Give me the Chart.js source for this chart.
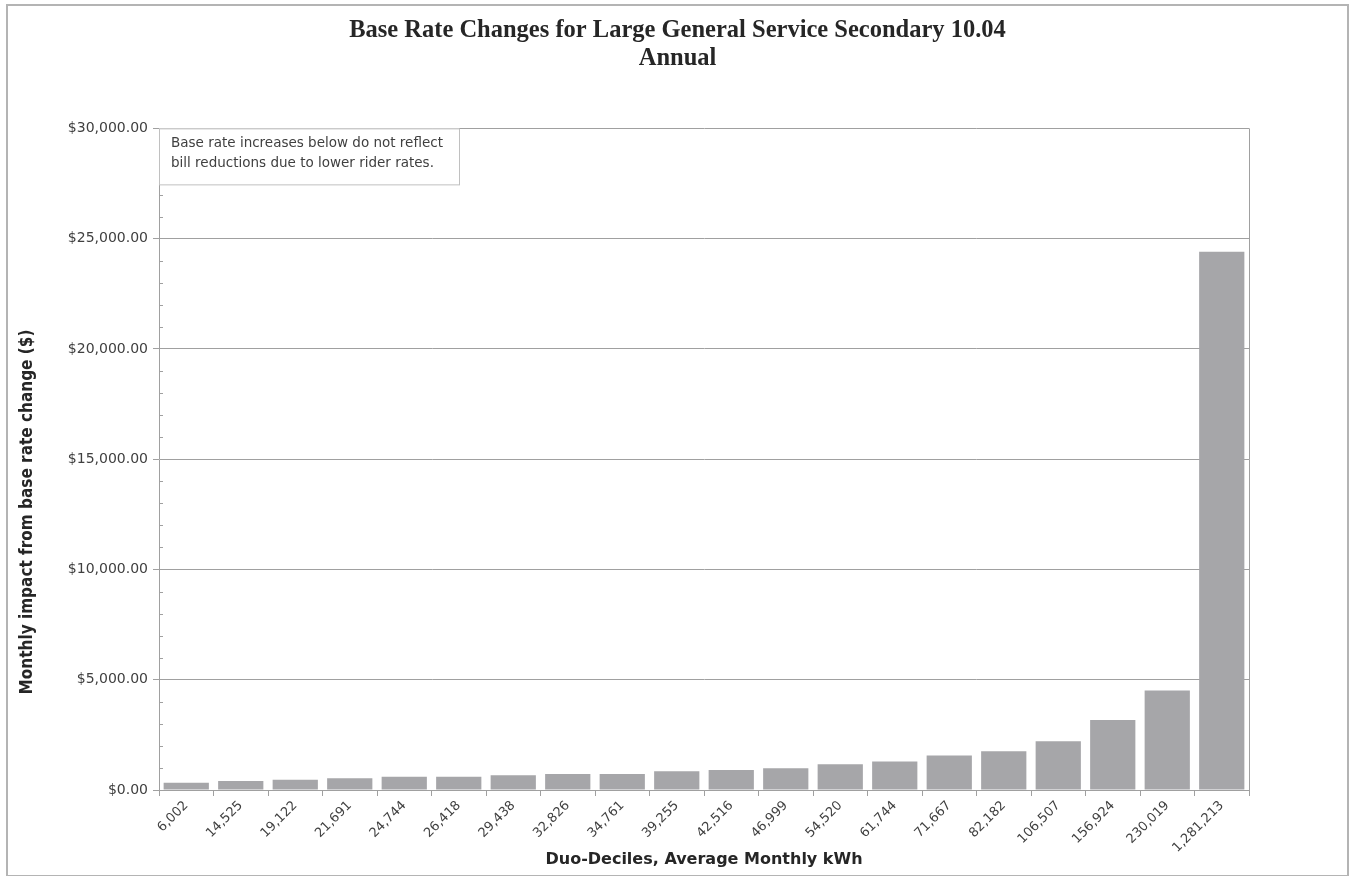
<!DOCTYPE html>
<html>
<head>
<meta charset="utf-8">
<script src="https://cdn.jsdelivr.net/npm/chart.js@4"></script>
<style>
  body { margin: 0; background: #fff; }
  #box { position: absolute; left: 6px; top: 4px; border: 2px solid #b4b4b4; }
  canvas { display: block; }
</style>
</head>
<body>
<div id="box"><canvas id="mainChart" width="1339" height="869"></canvas></div>
<script>
const titleLines = ['Base Rate Changes for Large General Service Secondary 10.04', 'Annual'];
const kwhLabels = ['6,002', '14,525', '19,122', '21,691', '24,744', '26,418', '29,438', '32,826', '34,761', '39,255',
                   '42,516', '46,999', '54,520', '61,744', '71,667', '82,182', '106,507', '156,924', '230,019', '1,281,213'];
const impactValues = [330, 410, 470, 530, 600, 605, 665, 725, 730, 850,
                      910, 985, 1165, 1290, 1560, 1760, 2210, 3170, 4515, 24400];
const yTitle = 'Monthly impact from base rate change ($)';
const xTitle = 'Duo-Deciles, Average Monthly kWh';
const noteLines = ['Base rate increases below do not reflect', 'bill reductions due to lower rider rates.'];

// extras: y title, minor ticks, right border, note box
const extras = {
  id: 'extras',
  afterDraw(chart) {
    const ctx = chart.ctx;
    const a = chart.chartArea;
    const y = chart.scales.y;
    ctx.save();
    // minor ticks
    ctx.strokeStyle = '#a0a0a0';
    ctx.lineWidth = 1;
    for (let v = 1000; v < 30000; v += 1000) {
      if (v % 5000 === 0) continue;
      const py = Math.round(y.getPixelForValue(v)) + 0.5;
      ctx.beginPath();
      ctx.moveTo(a.left, py);
      ctx.lineTo(a.left + 4, py);
      ctx.stroke();
    }
    // right border
    ctx.beginPath();
    ctx.moveTo(Math.round(a.right) + 0.5, a.top);
    ctx.lineTo(Math.round(a.right) + 0.5, a.bottom);
    ctx.stroke();
    // note box
    ctx.fillStyle = '#fff';
    ctx.fillRect(a.left, a.top, 300, 56);
    ctx.strokeStyle = '#c0c0c0';
    ctx.strokeRect(a.left + 0.5, a.top + 0.5, 300, 56);
    ctx.fillStyle = '#404040';
    ctx.font = '13.5px "DejaVu Sans"';
    ctx.textBaseline = 'middle';
    ctx.fillText(noteLines[0], a.left + 12, a.top + 15);
    ctx.fillText(noteLines[1], a.left + 12, a.top + 35);
    // y axis title
    ctx.translate(20, 506);
    ctx.rotate(-Math.PI / 2);
    ctx.textAlign = 'center';
    ctx.fillStyle = '#262626';
    ctx.font = 'bold 17px "DejaVu Sans Condensed", "DejaVu Sans"';
    ctx.fillText(yTitle, 0, 0);
    ctx.restore();
  }
};

function drawChart() {
  const ctx = document.getElementById('mainChart').getContext('2d');
  window.myChart = new Chart(ctx, {
    type: 'bar',
    data: {
      labels: kwhLabels,
      datasets: [{
        label: 'Impact',
        data: impactValues,
        backgroundColor: '#a6a6a9',
        borderWidth: 0,
        barPercentage: 0.83,
        categoryPercentage: 1.0
      }]
    },
    options: {
      responsive: false,
      animation: false,
      layout: { padding: 0 },
      plugins: {
        legend: { display: false },
        tooltip: { enabled: false },
        title: {
          display: true,
          text: titleLines,
          color: '#262626',
          font: { family: '"Liberation Serif", serif', size: 24.5, weight: 'bold', lineHeight: 1.13 },
          padding: { top: 11, bottom: 56 }
        }
      },
      scales: {
        x: {
          grid: { display: true, drawOnChartArea: false, color: '#a0a0a0', tickLength: 6, offset: true },
          border: { color: '#a0a0a0', width: 1 },
          ticks: {
            color: '#404040',
            font: { family: '"DejaVu Sans"', size: 13 },
            minRotation: 45,
            maxRotation: 45,
            autoSkip: false,
            padding: 2
          },
          title: {
            display: true,
            text: xTitle,
            color: '#262626',
            font: { family: '"DejaVu Sans"', size: 16, weight: 'bold' },
            padding: { top: 0, bottom: 6 }
          },
          afterFit(scale) { scale.height = 85; }
        },
        y: {
          min: 0,
          max: 30000,
          ticks: {
            stepSize: 5000,
            color: '#404040',
            font: { family: '"DejaVu Sans"', size: 14 },
            padding: 5,
            callback: v => '$' + v.toLocaleString('en-US', { minimumFractionDigits: 2, maximumFractionDigits: 2 })
          },
          grid: { color: '#a0a0a0', tickLength: 6 },
          border: { color: '#a0a0a0', width: 1 },
          afterFit(scale) { scale.width = 151; }
        },
        // empty right-hand spacer so the title stays centred on the whole canvas
        yRight: {
          position: 'right',
          display: true,
          grid: { display: false },
          border: { display: false },
          ticks: { display: false },
          afterFit(scale) { scale.width = 98; }
        }
      }
    },
    plugins: [extras]
  });
}
document.addEventListener('DOMContentLoaded', drawChart);
</script>
</body>
</html>
